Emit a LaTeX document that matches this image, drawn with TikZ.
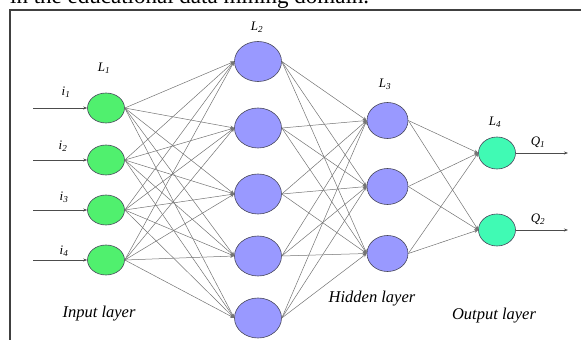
\documentclass[tikz,border=0pt]{standalone}
\usepackage{fontspec}
\setmainfont{Liberation Serif}
\usetikzlibrary{shapes.geometric,arrows.meta}
\definecolor{ingreen}{RGB}{80,240,110}
\definecolor{hidblue}{RGB}{153,153,255}
\definecolor{outaqua}{RGB}{64,250,180}
\definecolor{edgegray}{RGB}{115,115,115}
\definecolor{rimgray}{RGB}{70,70,90}
\tikzset{
  neuron/.style={ellipse, draw=rimgray, line width=0.6pt, inner sep=0pt},
  inneuron/.style={neuron, fill=ingreen, minimum width=37pt, minimum height=30pt},
  hidneuron/.style={neuron, fill=hidblue, minimum width=47pt, minimum height=40pt},
  hidneuronb/.style={neuron, fill=hidblue, minimum width=41pt, minimum height=36pt},
  outneuron/.style={neuron, fill=outaqua, minimum width=37pt, minimum height=32pt},
  link/.style={draw=edgegray, line width=0.5pt, -{Stealth[length=4pt,width=3.5pt]}},
  iolink/.style={draw=black!70, line width=0.6pt, -{Stealth[length=4pt,width=3pt]}},
  lbl/.style={font=\fontsize{13}{13}\selectfont\itshape, inner sep=0pt},
  layerlbl/.style={font=\fontsize{16.5}{16.5}\selectfont\itshape, inner sep=0pt},
  framestyle/.style={draw=black!75, line width=1.4pt}
}
\begin{document}
\begin{tikzpicture}[x=1pt,y=1pt]
\useasboundingbox (0,0) rectangle (581,340);
\begin{scope}
\clip (0,0) rectangle (581,340);
\node[anchor=base west, inner sep=0pt, font=\fontsize{23}{23}\selectfont] (toptext) at (10,336) {in the educational data mining domain.};
\end{scope}
\draw[framestyle] (10,0) -- (10,330) -- (581,330);

% input layer
\node[inneuron] (a1) at (106,232) {};
\node[inneuron] (a2) at (106,180) {};
\node[inneuron] (a3) at (106,130) {};
\node[inneuron] (a4) at (106,80) {};
% hidden L2
\node[hidneuron] (b1) at (258,278.5) {};
\node[hidneuron] (b2) at (258,212) {};
\node[hidneuron] (b3) at (258,146) {};
\node[hidneuron] (b4) at (258,84) {};
\node[hidneuron] (b5) at (258,22) {};
% hidden L3
\node[hidneuronb] (c1) at (387.5,219.5) {};
\node[hidneuronb] (c2) at (387.5,153.5) {};
\node[hidneuronb] (c3) at (387.5,86.5) {};
% output
\node[outneuron] (d1) at (497,187) {};
\node[outneuron] (d2) at (497,110) {};

% connections
\foreach \s in {1,...,4}{\foreach \t in {1,...,5}{\draw[link] (a\s.east) -- (b\t.west);}}
\foreach \s in {1,...,5}{\foreach \t in {1,...,3}{\draw[link] (b\s.east) -- (c\t.west);}}
\foreach \s in {1,...,3}{\foreach \t in {1,2}{\draw[link] (c\s.east) -- (d\t.west);}}

% inputs
\coordinate (s1) at (33,232);
\coordinate (s2) at (33,180);
\coordinate (s3) at (33,130);
\coordinate (s4) at (33,80);
\foreach \k in {1,...,4}{\draw[iolink] (s\k) -- (a\k.west);}
\coordinate (e1) at (568,187);
\coordinate (e2) at (568,110);
\draw[iolink] (d1.east) -- (e1);
\draw[iolink] (d2.east) -- (e2);

% labels
\node[lbl] (li1) at (66,248) {i\textsubscript{1}};
\node[lbl] (li2) at (63,194) {i\textsubscript{2}};
\node[lbl] (li3) at (64,143) {i\textsubscript{3}};
\node[lbl] (li4) at (64,89) {i\textsubscript{4}};
\node[lbl] (lL1) at (104,271.5) {L\textsubscript{1}};
\node[lbl] (lL2) at (257,313) {L\textsubscript{2}};
\node[lbl] (lL3) at (385,256) {L\textsubscript{3}};
\node[lbl] (lL4) at (495,218) {L\textsubscript{4}};
\node[lbl] (lQ1) at (538,198) {Q\textsubscript{1}};
\node[lbl] (lQ2) at (538,121) {Q\textsubscript{2}};
\node[layerlbl] (inl) at (99,26) {Input layer};
\node[layerlbl] (hidl) at (372,41) {Hidden layer};
\node[layerlbl] (outl) at (494,24) {Output layer};
\end{tikzpicture}
\end{document}
